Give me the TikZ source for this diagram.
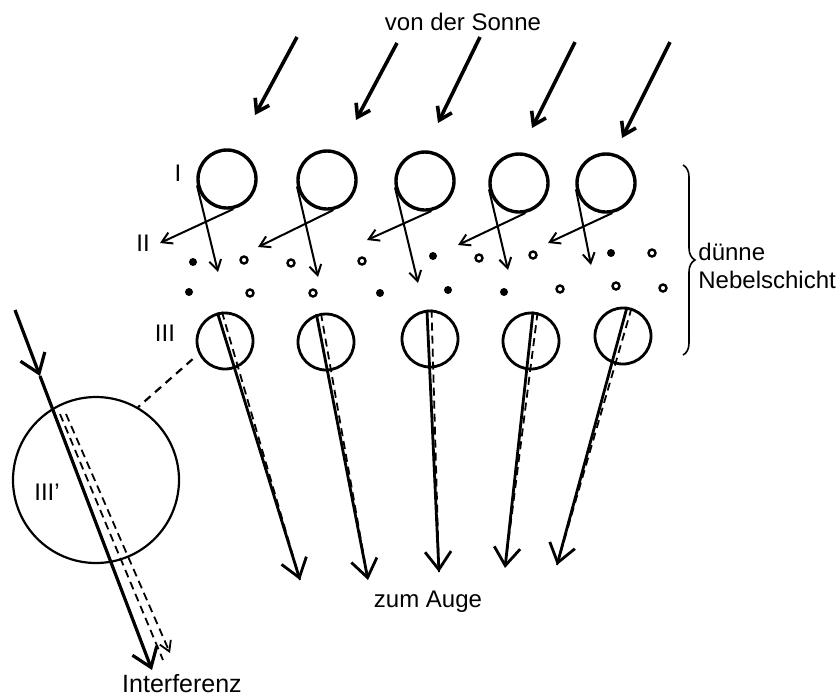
\documentclass[tikz,border=0pt]{standalone}
\usepackage{fontspec}
\setmainfont{Liberation Sans}
\usetikzlibrary{arrows.meta,decorations.pathreplacing}

\tikzset{
  drop/.style={circle,draw,line width=1.7pt,minimum size=29pt,inner sep=0pt},
  lbl/.style={font=\fontsize{12}{14}\selectfont,inner sep=1pt},
  sun/.style={-{Straight Barb[length=6pt,width=8pt]},line width=1.8pt},
  ray/.style={-{Straight Barb[length=5pt,width=6pt]},line width=1pt},
  beam/.style={-{Straight Barb[length=9pt,width=13pt]},line width=1.4pt},
  ghost/.style={dash pattern=on 4pt off 2.5pt,line width=0.9pt},
  layer/.style={decorate,decoration={brace,amplitude=6pt},line width=0.8pt},
}

\begin{document}
\begin{tikzpicture}[x=0.5pt,y=-0.5pt]
  \useasboundingbox (0,0) rectangle (840,698);
  \node[lbl] (sonne) at (463,22) {von der Sonne};

  % Tropfen oben: Sonnenlicht, Brechung, Reflexion
  \foreach \i/\tx/\ty/\sx/\sy/\ex/\ey/\dx/\dy/\rx/\ry in {
      1/227/179/297/37/255/115/218/272/160/243,
      2/327/180/397/43/356/120/318/277/258/247,
      3/425/181/480/37/438/123/418/283/367/240,
      4/519/183/575/42/532/128/508/270/458/245,
      5/606/183/670/42/622/138/591/265/548/243} {
    \node[drop] (t\i) at (\tx,\ty) {};
    \coordinate (s\i) at (\sx,\sy);
    \coordinate (e\i) at (\ex,\ey);
    \coordinate (d\i) at (\dx,\dy);
    \coordinate (r\i) at (\rx,\ry);
    \draw[sun] (s\i) -- (e\i);
    \draw[ray] (t\i.192) -- (d\i);
    \draw[ray] (t\i.282) -- (r\i);
  }

  % Nebel
  \foreach \x/\y in {193/262,433/256,611/253,189/292,380/293,448/290,504/292}
    \fill (\x,\y) circle[radius=4];
  \foreach \x/\y in {244/260,291/263,362/261,479/258,533/255,652/253,250/293,313/293,560/289,616/286,663/288}
    \draw[line width=1.2pt] (\x,\y) circle[radius=3.5];

  % Tropfen unten
  \foreach \i/\bx/\by/\a/\zx/\zy in {
      1/225/341/105/300/580,
      2/326/342/109/368/580,
      3/430/339/96/439/572,
      4/531/341/86/505/568,
      5/623/336/82/557/565} {
    \node[drop,minimum size=28pt,line width=1.4pt] (b\i) at (\bx,\by) {};
    \coordinate (z\i) at (\zx,\zy);
    \pgfmathsetmacro\g{\a-9}
    \draw[beam] (b\i.\a) -- (z\i);
    \draw[ghost] (b\i.\g) -- (z\i);
  }

  \node[lbl] (one) at (178,173) {I};
  \node[lbl] (two) at (143,243) {II};
  \node[lbl] (three) at (165,333) {III};
  \node[lbl] (auge) at (428,602) {zum Auge};

  \coordinate (bt) at (683,165);
  \coordinate (bb) at (683,355);
  \draw[layer] (bt) -- (bb);
  \node[lbl,anchor=west,align=left] (nebel) at (696,266) {dünne\\Nebelschicht};

  % Vergroesserung
  \node[drop,minimum size=83pt,line width=1.1pt] (big) at (96,480) {};
  \node[lbl] (threep) at (47,492) {III’};
  \draw[dash pattern=on 4pt off 3pt,line width=1.1pt,shorten <=4pt] (b1.206) -- (big.60);
  \coordinate (in) at (15,310);
  \coordinate (mid) at (40,376);
  \coordinate (out) at (152,670);
  \coordinate (p1) at (60,414);
  \coordinate (q1) at (163,660);
  \coordinate (p2) at (66,414);
  \coordinate (q2) at (170,653);
  \draw[beam,line width=1.6pt] (in) -- (mid);
  \draw[beam,line width=1.6pt] (mid) -- (out);
  \draw[ghost] (p1) -- (q1);
  \draw[ghost,-{Straight Barb[length=5pt,width=6pt]}] (p2) -- (q2);
  \node[lbl,font=\fontsize{12.5}{15}\selectfont] (interf) at (182,684) {Interferenz};
\end{tikzpicture}
\end{document}
